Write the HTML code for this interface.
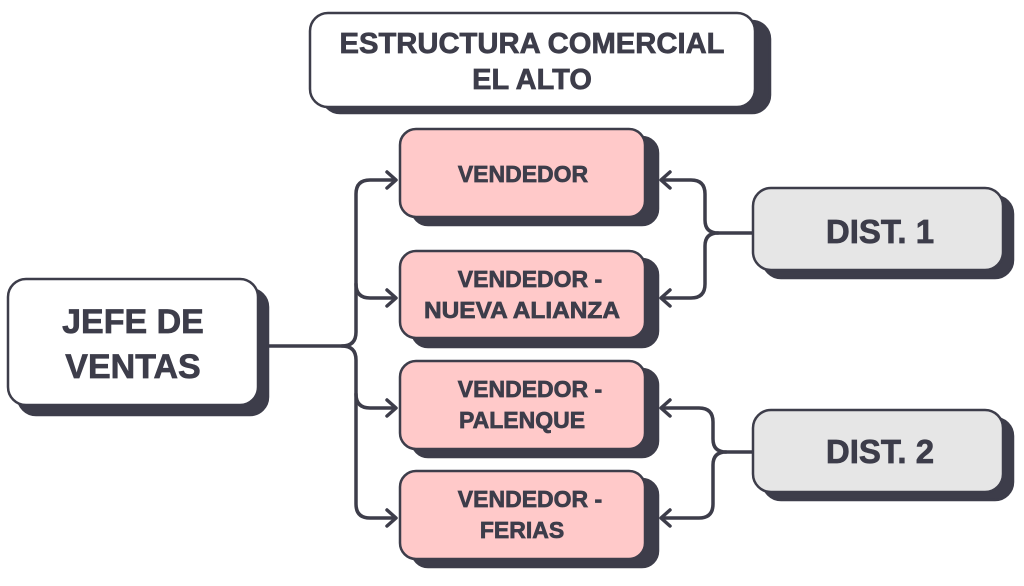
<!DOCTYPE html>
<html><head><style>
body{margin:0;width:1024px;height:581px;background:#fff;overflow:hidden}
</style></head><body>
<svg width="1024" height="581" viewBox="0 0 1024 581" font-family="Liberation Sans, sans-serif" font-weight="bold" fill="#3d3d4a">
<g stroke="#3d3d4a" stroke-width="3.5" fill="none" stroke-linecap="round" stroke-linejoin="round">
<path d="M262 346 H342 Q356 346 356 332 V194 Q356 180 370 180 H395"/>
<path d="M356 284 Q356 298 370 298 H395"/>
<path d="M342 346 Q356 346 356 360 V504 Q356 518 370 518 H395"/>
<path d="M356 394 Q356 408 370 408 H395"/>
<path d="M387 172 L396 180 L387 188 M387 290 L396 298 L387 306 M387 400 L396 408 L387 416 M387 510 L396 518 L387 526"/>
<path d="M752 233 H718 Q705 233 705 220 V194 Q705 180 691 180 H662"/>
<path d="M718 233 Q705 233 705 246 V284 Q705 298 691 298 H662"/>
<path d="M752 452 H726 Q713 452 713 439 V422 Q713 408 699 408 H662"/>
<path d="M726 452 Q713 452 713 465 V504 Q713 518 699 518 H662"/>
<path d="M670 172 L661 180 L670 188 M670 290 L661 298 L670 306 M670 400 L661 408 L670 416 M670 510 L661 518 L670 526"/>
</g>
<g stroke="#3d3d4a" stroke-width="2.5">
<rect x="322" y="21" width="448" height="92" rx="18" fill="#3d3d4a"/>
<rect x="310" y="13" width="445" height="94" rx="18" fill="#fff"/>
<rect x="18" y="289" width="250" height="126" rx="18" fill="#3d3d4a"/>
<rect x="8" y="279" width="250" height="126" rx="18" fill="#fff"/>
<rect x="763" y="196" width="250" height="82" rx="18" fill="#3d3d4a"/>
<rect x="753" y="188" width="250" height="82" rx="18" fill="#e6e6e6"/>
<rect x="763" y="418" width="250" height="82" rx="18" fill="#3d3d4a"/>
<rect x="753" y="410" width="250" height="82" rx="18" fill="#e6e6e6"/>
<rect x="412" y="137" width="246" height="88" rx="16" fill="#3d3d4a"/>
<rect x="400" y="129" width="245" height="88" rx="16" fill="#ffc9c9"/>
<rect x="412" y="259" width="246" height="88" rx="16" fill="#3d3d4a"/>
<rect x="400" y="251" width="245" height="87" rx="16" fill="#ffc9c9"/>
<rect x="412" y="369" width="246" height="88" rx="16" fill="#3d3d4a"/>
<rect x="400" y="361" width="245" height="88" rx="16" fill="#ffc9c9"/>
<rect x="412" y="479" width="246" height="88" rx="16" fill="#3d3d4a"/>
<rect x="400" y="471" width="245" height="88" rx="16" fill="#ffc9c9"/>
</g>
<g text-anchor="middle" stroke="#3d3d4a" stroke-width="0.7">
<text x="532" y="53" font-size="29" textLength="385" lengthAdjust="spacingAndGlyphs">ESTRUCTURA COMERCIAL</text>
<text x="532" y="89" font-size="29">EL ALTO</text>
<text x="133" y="333" font-size="34">JEFE DE</text>
<text x="133" y="378" font-size="34">VENTAS</text>
<text x="880" y="243" font-size="33">DIST. 1</text>
<text x="880" y="463" font-size="33">DIST. 2</text>
<g font-size="23">
<text x="523" y="182">VENDEDOR</text>
<text x="530" y="287">VENDEDOR -</text>
<text x="522" y="318" textLength="196" lengthAdjust="spacingAndGlyphs">NUEVA ALIANZA</text>
<text x="530" y="397">VENDEDOR -</text>
<text x="522" y="428">PALENQUE</text>
<text x="530" y="507">VENDEDOR -</text>
<text x="522" y="538">FERIAS</text>
</g>
</g>
</svg>
</body></html>
